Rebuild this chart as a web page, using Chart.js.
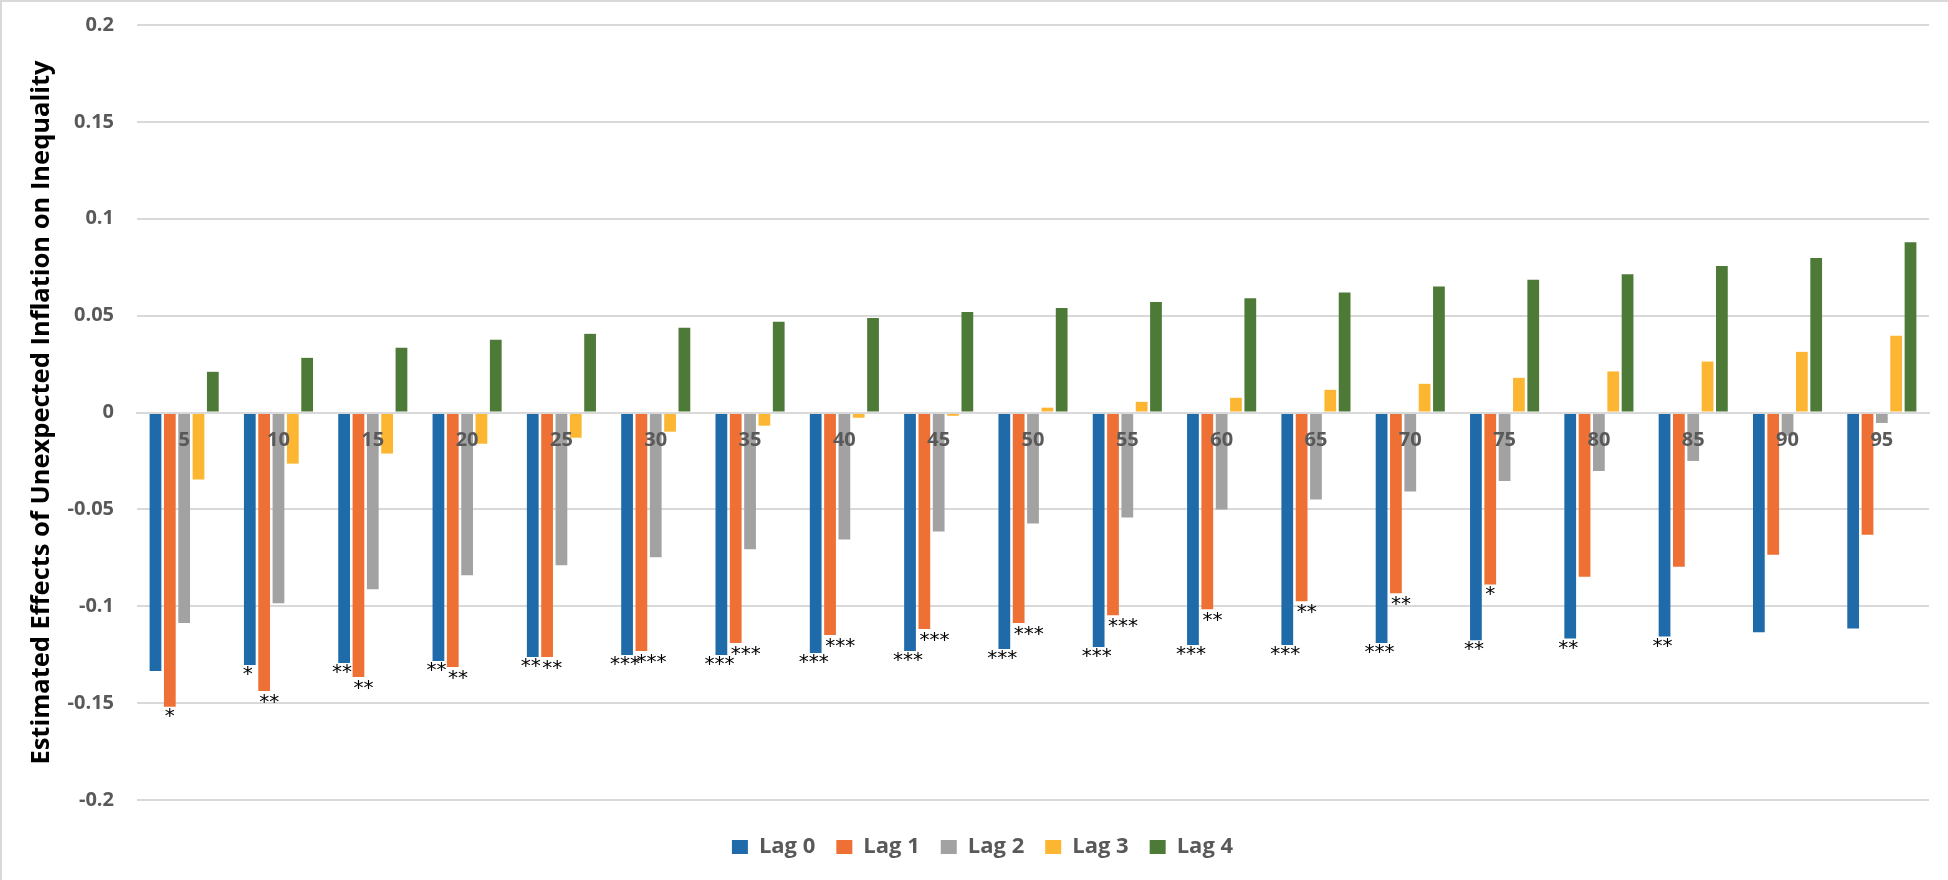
<!DOCTYPE html>
<html>
<head>
<meta charset="utf-8">
<script src="https://cdn.jsdelivr.net/npm/chart.js@4.4.1/dist/chart.umd.min.js"></script>
<style>
  html, body { margin: 0; padding: 0; background: #ffffff; }
  #wrap { position: relative; width: 1948px; height: 880px; }
</style>
</head>
<body>
<div id="wrap"><canvas id="c"></canvas></div>
<script>
const categories = ['5','10','15','20','25','30','35','40','45','50','55','60','65','70','75','80','85','90','95'];
const seriesNames = ['Lag 0','Lag 1','Lag 2','Lag 3','Lag 4'];
const lag0 = [-0.1334,-0.1303,-0.1293,-0.1282,-0.1262,-0.1252,-0.1252,-0.1241,-0.1231,-0.1220,-0.1210,-0.1200,-0.1200,-0.1190,-0.1175,-0.1166,-0.1156,-0.1134,-0.1115];
const lag1 = [-0.1519,-0.1437,-0.1365,-0.1313,-0.1262,-0.1231,-0.1190,-0.1149,-0.1118,-0.1087,-0.1046,-0.1015,-0.0974,-0.0933,-0.0888,-0.0848,-0.0796,-0.0734,-0.0631];
const lag2 = [-0.1087,-0.0984,-0.0912,-0.0840,-0.0788,-0.0747,-0.0706,-0.0655,-0.0614,-0.0573,-0.0542,-0.0500,-0.0449,-0.0408,-0.0353,-0.0302,-0.0250,-0.0120,-0.0054];
const lag3 = [-0.0346,-0.0264,-0.0212,-0.0161,-0.0130,-0.0099,-0.0068,-0.0027,-0.0017,0.0025,0.0055,0.0076,0.0117,0.0148,0.0179,0.0212,0.0263,0.0313,0.0396];
const lag4 = [0.0210,0.0282,0.0334,0.0375,0.0406,0.0437,0.0468,0.0488,0.0519,0.0540,0.0570,0.0590,0.0620,0.0650,0.0685,0.0714,0.0756,0.0797,0.0879];
const stars0 = ['','*','**','**','**','***','***','***','***','***','***','***','***','***','**','**','**','',''];
const stars1 = ['*','**','**','**','**','***','***','***','***','***','***','**','**','**','*','','','',''];
const yTicks = [0.2,0.15,0.1,0.05,0,-0.05,-0.1,-0.15,-0.2];
const yTitle = 'Estimated Effects of Unexpected Inflation on Inequality';

const colors = ['#1f6aa9','#ee7034','#a2a2a2','#fdb631','#4e7a37'];
const allSeries = [lag0, lag1, lag2, lag3, lag4];
const starSets = [stars0, stars1];

const starPlugin = {
  id: 'stars',
  afterDatasetsDraw(chart) {
    const ctx = chart.ctx;
    ctx.save();
    ctx.fillStyle = '#000000';
    ctx.font = '20px "DejaVu Sans"';
    ctx.textBaseline = 'top';
    starSets.forEach((set, di) => {
      const meta = chart.getDatasetMeta(di);
      meta.data.forEach((bar, i) => {
        const s = set[i];
        if (!s) return;
        if (di === 1 && s.length >= 2) {
          ctx.textAlign = 'left';
          ctx.fillText(s, bar.x - bar.width / 2 + 1, bar.y + 2);
        } else {
          ctx.textAlign = 'center';
          ctx.fillText(s, bar.x - (di === 0 ? 2 : 0), bar.y);
        }
      });
    });
    ctx.restore();
  }
};

const framePlugin = {
  id: 'frame',
  afterLayout(chart) {
    if (chart.legend) { chart.legend.left += 18; chart.legend.right += 18; }
  },
  beforeDraw(chart) {
    const ctx = chart.ctx;
    ctx.save();
    ctx.fillStyle = '#ffffff';
    ctx.fillRect(0, 0, chart.width, chart.height);
    ctx.strokeStyle = '#d9d9d9';
    ctx.lineWidth = 2;
    ctx.beginPath();
    ctx.moveTo(1, chart.height);
    ctx.lineTo(1, 1);
    ctx.lineTo(chart.width, 1);
    ctx.stroke();
    ctx.restore();
  }
};

new Chart(document.getElementById('c'), {
  type: 'bar',
  data: {
    labels: categories,
    datasets: allSeries.map((d, i) => ({
      label: seriesNames[i],
      data: d,
      backgroundColor: colors[i],
      borderWidth: 0,
      categoryPercentage: 0.76,
      barPercentage: 0.82
    }))
  },
  options: {
    responsive: true,
    maintainAspectRatio: false,
    devicePixelRatio: 1,
    animation: false,
    layout: { padding: { left: 0, right: 19, top: 25, bottom: 12 } },
    plugins: {
      legend: {
        position: 'bottom',
        title: { display: true, text: '', font: { size: 10 }, padding: { top: 3, bottom: 0 } },
        labels: {
          boxWidth: 16,
          boxHeight: 14,
          padding: 21,
          color: '#595959',
          font: { family: 'Open Sans', size: 22, weight: 'bold' }
        }
      },
      tooltip: { enabled: false }
    },
    scales: {
      x: {
        position: { y: 0 },
        grid: { display: false, drawTicks: false },
        border: { display: true, color: '#d9d9d9', width: 2, z: 1 },
        ticks: {
          z: 1,
          color: '#595959',
          padding: 16,
          maxRotation: 0,
          autoSkip: false,
          font: { family: 'Open Sans', size: 20, weight: 'bold' }
        }
      },
      y: {
        min: -0.2,
        max: 0.2,
        afterBuildTicks(scale) { scale.ticks = yTicks.map(v => ({ value: v })); },
        afterFit(scale) { scale.width = 137; scale.paddingTop = 12; scale.paddingBottom = 12; },
        grid: { color: '#d9d9d9', lineWidth: 2, drawTicks: false },
        border: { display: false },
        ticks: {
          color: '#595959',
          padding: 23,
          font: { family: 'Open Sans', size: 20, weight: 'bold' },
          callback: (v) => String(Number(Number(v).toFixed(2)))
        },
        title: {
          display: true,
          text: yTitle,
          color: '#000000',
          font: { family: 'Open Sans', size: 25.5, weight: 'bold' },
          padding: { top: 26, bottom: 10 }
        }
      }
    }
  },
  plugins: [framePlugin, starPlugin]
});
</script>
</body>
</html>
